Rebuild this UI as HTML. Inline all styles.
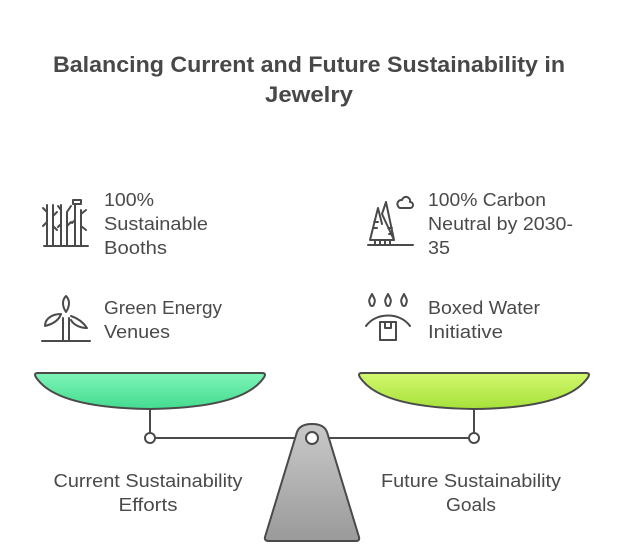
<!DOCTYPE html>
<html><head><meta charset="utf-8"><style>
html,body{margin:0;padding:0;background:#fff;}
svg{display:block;font-family:"Liberation Sans",sans-serif;}
</style></head><body>
<svg width="624" height="552" viewBox="0 0 624 552" xmlns="http://www.w3.org/2000/svg">
<defs>
<linearGradient id="g1" x1="0" y1="0" x2="0" y2="1"><stop offset="0" stop-color="#7ff5b8"/><stop offset="1" stop-color="#43db8f"/></linearGradient>
<linearGradient id="g2" x1="0" y1="0" x2="0" y2="1"><stop offset="0" stop-color="#d3f86f"/><stop offset="1" stop-color="#a6e13a"/></linearGradient>
<linearGradient id="g3" x1="0" y1="0" x2="0" y2="1"><stop offset="0" stop-color="#c9c9c9"/><stop offset="1" stop-color="#9a9a9a"/></linearGradient>
</defs>
<g fill="#484848" font-weight="bold" font-size="22" text-anchor="middle">
<text x="309" y="72" textLength="512" lengthAdjust="spacingAndGlyphs">Balancing Current and Future Sustainability in</text>
<text x="309" y="102" textLength="88" lengthAdjust="spacingAndGlyphs">Jewelry</text>
</g>
<g fill="#4a4a4a" font-size="18" lengthAdjust="spacingAndGlyphs">
<text x="104" y="206" textLength="50" lengthAdjust="spacingAndGlyphs">100%</text>
<text x="104" y="230" textLength="104" lengthAdjust="spacingAndGlyphs">Sustainable</text>
<text x="104" y="254" textLength="63" lengthAdjust="spacingAndGlyphs">Booths</text>
<text x="104" y="314" textLength="118" lengthAdjust="spacingAndGlyphs">Green Energy</text>
<text x="104" y="338" textLength="66" lengthAdjust="spacingAndGlyphs">Venues</text>
<text x="428" y="206" textLength="118" lengthAdjust="spacingAndGlyphs">100% Carbon</text>
<text x="428" y="230" textLength="145" lengthAdjust="spacingAndGlyphs">Neutral by 2030-</text>
<text x="428" y="254" textLength="22" lengthAdjust="spacingAndGlyphs">35</text>
<text x="428" y="314" textLength="112" lengthAdjust="spacingAndGlyphs">Boxed Water</text>
<text x="428" y="338" textLength="75" lengthAdjust="spacingAndGlyphs">Initiative</text>
<g text-anchor="middle">
<text x="148" y="487" textLength="189" lengthAdjust="spacingAndGlyphs">Current Sustainability</text>
<text x="148" y="511" textLength="59" lengthAdjust="spacingAndGlyphs">Efforts</text>
<text x="471" y="487" textLength="180" lengthAdjust="spacingAndGlyphs">Future Sustainability</text>
<text x="471" y="511" textLength="50" lengthAdjust="spacingAndGlyphs">Goals</text>
</g>
</g>
<!-- icons -->
<g fill="none" stroke="#4a4a4a" stroke-width="2" stroke-linecap="round" stroke-linejoin="round">
<path d="M44 246 H88"/>
<path d="M47 246 V205 M53 246 V205 M47 212 l-4 -4 M53 216 l4 -4 M47 222 l-4 4 M53 226 l4 4"/>
<path d="M61 246 V205 M67 246 V212 M61 210 l-3 -4 M67 212 l4 -6 M61 224 l-3 3 M67 226 l4 -4"/>
<path d="M75 246 V205 M81 246 V210 M73 204 h8 v-4 h-8z M81 214 l5 -4 M81 226 l5 4 M75 220 l-3 3"/>
<path d="M42 341 H90 M63 341 V318 M69 341 V318 M66 312 c-4 -6 -4 -12 0 -16 c4 4 4 10 0 16 M61 314 c-8 0 -16 4 -16 12 c8 -2 14 -6 16 -12 M71 316 c6 2 12 6 16 12 c-8 0 -14 -4 -16 -8"/>
<path d="M368 245 H413 M370 240 l8 -32 l4 16 M382 214 l4 -12 l8 38 z M370 240 h24 M375 240 v5 M380 240 v5 M385 240 v5 M390 240 v5 M374 222 h4 M373 228 h4 M388 228 h4 M389 234 h4 M398 206 a4 4 0 0 1 4 -6 a4 4 0 0 1 8 2 a3 3 0 0 1 0 6 h-10 a3 3 0 0 1 -2 -2z"/>
<path d="M370 304 c-2 -4 0 -6 2 -10 c2 4 4 6 2 10 a2 2 0 0 1 -4 0z M386 304 c-2 -4 0 -6 2 -10 c2 4 4 6 2 10 a2 2 0 0 1 -4 0z M402 304 c-2 -4 0 -6 2 -10 c2 4 4 6 2 10 a2 2 0 0 1 -4 0z M366 326 c10 -14 34 -14 44 0 M380 322 h16 v18 h-16z M385 322 v6 h6 v-6"/>
</g>
<!-- scale -->
<g stroke="#4a4a4a" stroke-width="2">
<path d="M150 409 V433 M474 409 V433 M155 438 H300 M324 438 H469"/>
<path d="M38 373 H262 Q268 373 262 380 Q240 408 150 409 Q60 408 38 380 Q32 373 38 373Z" fill="url(#g1)"/>
<path d="M362 373 H586 Q592 373 586 380 Q564 408 474 409 Q384 408 362 380 Q356 373 362 373Z" fill="url(#g2)"/>
<path d="M297 432 Q300 424 312 424 Q324 424 327 432 L359 537 Q360 541 356 541 H269 Q264 541 265 537 Z" fill="url(#g3)"/>
<circle cx="150" cy="438" r="5" fill="#fff"/>
<circle cx="474" cy="438" r="5" fill="#fff"/>
<circle cx="312" cy="438" r="6" fill="#fff"/>
</g>
</svg>
</body></html>
